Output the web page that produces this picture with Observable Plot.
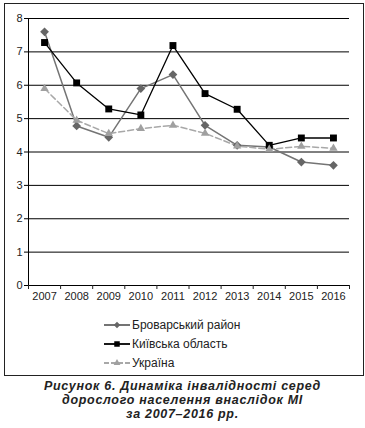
<!DOCTYPE html>
<html><head><meta charset="utf-8">
<script src="https://cdn.jsdelivr.net/npm/d3@7"></script>
<script src="https://cdn.jsdelivr.net/npm/@observablehq/plot@0.6"></script>
<style>
body{margin:0;background:#fff;font-family:"Liberation Sans",Arial,sans-serif;}
#frame{position:absolute;left:4px;top:3px;width:358px;height:371px;border:1px solid #222;}
#chart{position:absolute;left:0;top:0;}
#legend{position:absolute;left:104px;top:315px;font-size:12px;color:#222;}
.row{height:19.3px;display:flex;align-items:center;}
.row svg{margin-right:2px;}
#caption{position:absolute;left:0;width:365px;top:379px;text-align:center;font-weight:bold;font-style:italic;font-size:12.5px;letter-spacing:0.7px;line-height:14px;color:#222;}
</style></head>
<body>
<div id="frame"></div>
<div id="chart"></div>
<div id="legend"></div>
<div id="caption">Рисунок 6. Динаміка інвалідності серед<br>дорослого населення внаслідок МІ<br>за 2007–2016 рр.</div>
<script>
const years = [2007, 2008, 2009, 2010, 2011, 2012, 2013, 2014, 2015, 2016];
const brovary = [7.6, 4.78, 4.44, 5.9, 6.32, 4.8, 4.2, 4.15, 3.7, 3.6];
const kyiv = [7.28, 6.07, 5.29, 5.11, 7.19, 5.75, 5.28, 4.2, 4.42, 4.42];
const ukraine = [5.9, 4.95, 4.55, 4.7, 4.8, 4.56, 4.18, 4.08, 4.17, 4.11];
const yTicks = [0, 1, 2, 3, 4, 5, 6, 7, 8];
const seriesNames = ["Броварський район", "Київська область", "Україна"];

const styles = [
  {stroke: "#747474", fill: "#666", symbol: "square", rotate: 45, dash: null, width: 1.5, r: 3.5, lr: 2.6},
  {stroke: "#000", fill: "#000", symbol: "square", rotate: 0, dash: null, width: 1.3, r: 3.9, lr: 3.1},
  {stroke: "#a8a8a8", fill: "#a0a0a0", symbol: "triangle", rotate: 0, dash: "6,3", width: 1.5, r: 3.1, lr: 2.5}
];
const seriesVals = [brovary, kyiv, ukraine];
const data = seriesVals.map((vals, i) => years.map((y, j) => ({year: y, value: vals[j], s: i})));
const bounds = years.map(y => y - 0.5).concat([years[years.length - 1] + 0.5]);

const marks = [
  Plot.ruleY(yTicks, {stroke: "#000", strokeWidth: 1}),
  Plot.ruleX([bounds[0]], {stroke: "#000", strokeWidth: 1}),
  Plot.axisY({ticks: yTicks, tickSize: 4, tickPadding: 2, label: null, stroke: "#000"}),
  Plot.axisX({ticks: bounds, tickSize: 4, tickFormat: () => "", label: null}),
  Plot.axisX({ticks: years, tickSize: 0, tickPadding: 7, tickFormat: d => String(d), label: null})
];
data.forEach((d, i) => {
  const st = styles[i];
  marks.push(Plot.line(d, {x: "year", y: "value", stroke: st.stroke, strokeWidth: st.width, strokeDasharray: st.dash}));
});
data.forEach((d, i) => {
  const st = styles[i];
  marks.push(Plot.dot(d, {x: "year", y: "value", symbol: () => st.symbol, rotate: st.rotate, fill: st.fill, stroke: "none", r: st.r}));
});

const chart = Plot.plot({
  width: 365, height: 305,
  marginLeft: 28, marginRight: 16, marginTop: 18, marginBottom: 20,
  x: {type: "linear", domain: [bounds[0], bounds[bounds.length - 1]]},
  y: {domain: [0, 8]},
  symbol: {type: "identity"},
  style: {fontFamily: "'Liberation Sans', Arial, sans-serif", fontSize: "11px", color: "#222", background: "transparent", overflow: "visible"},
  marks
});
document.getElementById("chart").appendChild(chart);

const legend = document.getElementById("legend");
const symPath = {square: d3.symbolSquare, triangle: d3.symbolTriangle};
seriesNames.forEach((name, i) => {
  const st = styles[i];
  const row = document.createElement("div");
  row.className = "row";
  const sz = st.lr * st.lr * Math.PI;
  const p = d3.symbol(symPath[st.symbol], sz)();
  row.innerHTML = `<svg width="26" height="12"><line x1="0" x2="26" y1="6" y2="6" stroke="${st.stroke}" stroke-width="${st.width + 0.5}" ${st.dash ? 'stroke-dasharray="5,2"' : ''}/><path d="${p}" transform="translate(13,6) rotate(${st.rotate})" fill="${st.fill}"/></svg><span>${name}</span>`;
  legend.appendChild(row);
});
</script>
</body></html>
